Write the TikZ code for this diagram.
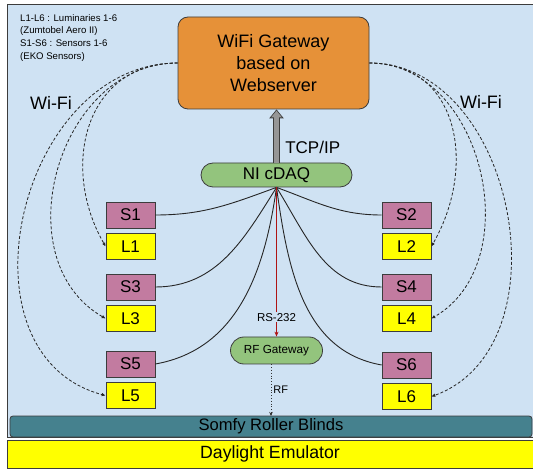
\documentclass[tikz,border=0pt]{standalone}
\usepackage{fontspec}
\setmainfont{Liberation Sans}
\usepackage{tikz}
\usetikzlibrary{arrows.meta, positioning}
\definecolor{panelblue}{RGB}{207,226,243}
\definecolor{gworange}{RGB}{230,145,56}
\definecolor{daqgreen}{RGB}{147,196,125}
\definecolor{sensorpink}{RGB}{194,123,160}
\definecolor{blindteal}{RGB}{69,129,142}
\definecolor{lumyellow}{RGB}{255,255,0}
\definecolor{edgegray}{RGB}{60,60,60}
\definecolor{tcpgray}{RGB}{150,150,150}
\definecolor{rsred}{RGB}{175,20,20}
\tikzset{
  gwbox/.style={rectangle, draw=edgegray, fill=gworange, minimum width=191pt,
    minimum height=92pt, inner sep=0pt, align=center, rounded corners=10pt,
    font=\fontsize{18}{22}\selectfont, line width=0.8pt},
  pill/.style={rectangle, draw=edgegray, fill=daqgreen, inner sep=0pt,
    line width=0.8pt},
  sensor/.style={rectangle, draw=edgegray, fill=sensorpink, minimum width=49pt,
    minimum height=26pt, inner sep=0pt, font=\fontsize{17}{20}\selectfont, line width=0.6pt},
  lum/.style={rectangle, draw=edgegray, fill=lumyellow, minimum width=49pt,
    minimum height=26pt, inner sep=0pt, font=\fontsize{17}{20}\selectfont, line width=0.6pt},
  bar/.style={rectangle, draw=edgegray, inner sep=0pt, line width=0.8pt},
  wire/.style={line width=0.9pt, color=black!85},
  wifi/.style={dash pattern=on 3pt off 2pt, line width=0.8pt, color=black!85, -{Latex[length=4pt,width=3.5pt]}},
  rsarrow/.style={line width=0.8pt, color=rsred, -{Stealth[length=5pt,width=4pt]}},
  rfarrow/.style={dotted, line width=0.8pt, color=black!80, -{Stealth[length=4pt,width=3.5pt]}},
  lbl/.style={font=\fontsize{18}{20}\selectfont}
}

\begin{document}
\begin{tikzpicture}[x=1pt, y=1pt]
  \useasboundingbox (0,0) rectangle (533,-470);
  % background panel
  \draw[fill=panelblue, draw=edgegray, line width=0.8pt] (7,-4) rectangle (533,-437);

  \node[anchor=north west, inner sep=0pt, align=left, font=\fontsize{9.6}{12.7}\selectfont] (legend) at (20,-14)
    {L1-L6 : Luminaries 1-6\\(Zumtobel Aero II)\\S1-S6 : Sensors 1-6\\(EKO Sensors)};

  \node[gwbox] (gateway) at (273.5,-63) {WiFi Gateway\\based on\\Webserver};
  \node[pill, minimum width=151pt, minimum height=24pt, rounded corners=12pt,
    font=\fontsize{17}{20}\selectfont] (cdaq) at (276.5,-175) {NI cDAQ};
  \node[pill, minimum width=92pt, minimum height=27pt, rounded corners=13.5pt,
    font=\fontsize{11.7}{14}\selectfont] (rfgw) at (276.5,-350.5) {RF Gateway};

  % sensors and luminaries
  \node[sensor] (s1) at (130.5,-215) {S1};
  \node[lum, below=5pt of s1] (l1) {L1};
  \node[sensor] (s3) at (130.5,-287) {S3};
  \node[lum, below=5pt of s3] (l3) {L3};
  \node[sensor] (s5) at (130.5,-364) {S5};
  \node[lum, below=5pt of s5] (l5) {L5};
  \node[sensor] (s2) at (406.5,-215) {S2};
  \node[lum, below=5pt of s2] (l2) {L2};
  \node[sensor] (s4) at (406.5,-287) {S4};
  \node[lum, below=5pt of s4] (l4) {L4};
  \node[sensor] (s6) at (406.5,-365) {S6};
  \node[lum, below=5pt of s6] (l6) {L6};

  \node[bar, fill=blindteal, minimum width=522pt, minimum height=21pt, rounded corners=3pt,
    font=\fontsize{16.6}{18}\selectfont] (somfy) at (271,-426.5) {Somfy Roller Blinds};
  \node[bar, fill=lumyellow, minimum width=526pt, minimum height=28pt,
    font=\fontsize{17.7}{20}\selectfont] (daylight) at (270,-454) {Daylight Emulator};

  \node[lbl] (wifil) at (51,-103) {Wi-Fi};
  \node[lbl] (wifir) at (481,-102) {Wi-Fi};

  % TCP/IP link
  \draw[draw=edgegray, line width=7.5pt, -{Triangle[width=14pt,length=9pt]}]
    (cdaq.north) -- (cdaq.north |- gateway.south);
  \draw[draw=tcpgray, line width=5pt, -{Triangle[width=10.5pt,length=6.8pt]}]
    (cdaq.north) -- ([yshift=-1.3pt]cdaq.north |- gateway.south)
    node[pos=0.3, right=3pt, font=\fontsize{17}{20}\selectfont] {TCP/IP};

  % sensor wires
  \draw[wire] (s1.east) to[out=0, in=200] (cdaq.south);
  \draw[wire] (s3.east) to[out=0, in=238] (cdaq.south);
  \draw[wire] (s5.east) to[out=10, in=262] (cdaq.south);
  \draw[wire] (s2.west) to[out=180, in=-20] (cdaq.south);
  \draw[wire] (s4.west) to[out=180, in=-58] (cdaq.south);
  \draw[wire] (s6.west) to[out=170, in=-82] (cdaq.south);

  % serial and radio
  \draw[rsarrow] (cdaq.south) -- node[pos=0.87, fill=panelblue, inner sep=1pt, text=black,
    font=\fontsize{11.5}{13}\selectfont] {RS-232} (rfgw.north);
  \coordinate (rfend) at (271,-416);
  \draw[rfarrow] (rfgw.south -| rfend) -- node[right, inner sep=2pt, text=black,
    font=\fontsize{11}{13}\selectfont] {RF} (rfend);

  % wifi links
  \draw[wifi] (gateway.west) to[out=180, in=120, looseness=1.2] (l1.west);
  \draw[wifi] (gateway.west) to[out=180, in=150, looseness=1.15] (l3.west);
  \draw[wifi] (gateway.west) to[out=180, in=165, looseness=1.2] (l5.west);
  \draw[wifi] (gateway.east) to[out=0, in=60, looseness=1.2] (l2.east);
  \draw[wifi] (gateway.east) to[out=0, in=30, looseness=1.1] (l4.east);
  \draw[wifi] (gateway.east) to[out=0, in=20, looseness=1.1] (l6.east);
\end{tikzpicture}
\end{document}
